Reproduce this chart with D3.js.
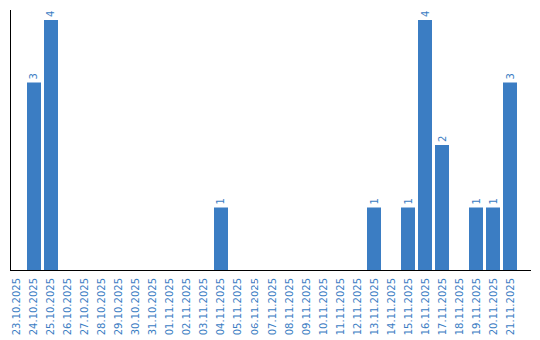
<!DOCTYPE html>
<html>
<head>
<meta charset="utf-8">
<script src="https://cdn.jsdelivr.net/npm/d3@7"></script>
<style>
  body { margin: 0; background: #fff; }
  svg { display: block; }
</style>
</head>
<body>
<script>
// data
var dates = [
  "23.10.2025", "24.10.2025", "25.10.2025", "26.10.2025", "27.10.2025",
  "28.10.2025", "29.10.2025", "30.10.2025", "31.10.2025", "01.11.2025",
  "02.11.2025", "03.11.2025", "04.11.2025", "05.11.2025", "06.11.2025",
  "07.11.2025", "08.11.2025", "09.11.2025", "10.11.2025", "11.11.2025",
  "12.11.2025", "13.11.2025", "14.11.2025", "15.11.2025", "16.11.2025",
  "17.11.2025", "18.11.2025", "19.11.2025", "20.11.2025", "21.11.2025"
];
var counts = [
  0, 3, 4, 0, 0,
  0, 0, 0, 0, 0,
  0, 0, 1, 0, 0,
  0, 0, 0, 0, 0,
  0, 1, 0, 1, 4,
  2, 0, 1, 1, 3
];

var width = 540, height = 340;
var blue = "#3b7dc3";
var fontFam = "Verdana, 'DejaVu Sans', sans-serif";

var svg = d3.select("body")
  .append("svg")
  .attr("width", width)
  .attr("height", height);

var x = d3.scaleBand()
  .domain(dates)
  .range([10, 517])
  .paddingInner(0.1765)
  .paddingOuter(0);

var y = d3.scaleLinear()
  .domain([0, 4])
  .range([270, 20]);

var rows = dates.map(function(d, i) {
  return { date: d, count: counts[i] };
});

// bars
svg.selectAll(".bar")
  .data(rows.filter(function(d) { return d.count > 0; }))
  .enter()
  .append("rect")
  .attr("class", "bar")
  .attr("x", function(d) { return x(d.date); })
  .attr("y", function(d) { return y(d.count); })
  .attr("width", x.bandwidth())
  .attr("height", function(d) { return y(0) - y(d.count); })
  .attr("fill", blue);

// value labels
svg.selectAll(".val")
  .data(rows.filter(function(d) { return d.count > 0; }))
  .enter()
  .append("text")
  .attr("class", "val")
  .attr("transform", function(d) {
    return "translate(" + (x(d.date) + x.bandwidth() / 2) + "," + (y(d.count) - 3) + ") rotate(-90)";
  })
  .attr("dy", "0.35em")
  .style("text-anchor", "start")
  .style("font-family", fontFam)
  .style("font-size", "10px")
  .attr("fill", blue)
  .text(function(d) { return d.count; });

// x axis labels
var xAxis = svg.append("g")
  .attr("transform", "translate(0," + y(0) + ")")
  .call(d3.axisBottom(x).tickSize(0).tickSizeOuter(0));

xAxis.select(".domain").remove();
xAxis.selectAll("text")
  .attr("y", 0)
  .attr("x", -8)
  .attr("dy", "0.35em")
  .attr("transform", "rotate(-90)")
  .style("text-anchor", "end")
  .style("font-family", fontFam)
  .style("font-size", "10px")
  .attr("fill", blue);

// axis lines
svg.append("line")
  .attr("x1", 10.5).attr("x2", 10.5)
  .attr("y1", 10).attr("y2", 270)
  .attr("stroke", "#000");

svg.append("line")
  .attr("x1", 10).attr("x2", 531)
  .attr("y1", 270.5).attr("y2", 270.5)
  .attr("stroke", "#000");
</script>
</body>
</html>
